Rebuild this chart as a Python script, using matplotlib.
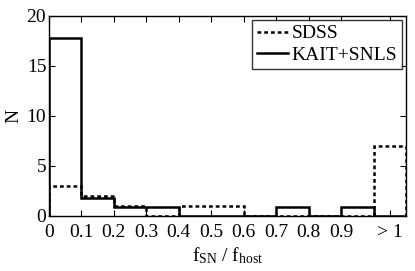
import matplotlib
matplotlib.use("Agg")
import matplotlib.pyplot as plt
import numpy as np

plt.rcParams['font.family'] = ['Liberation Serif', 'DejaVu Serif']
plt.rcParams['mathtext.fontset'] = 'custom'
plt.rcParams['mathtext.rm'] = 'Liberation Serif'
plt.rcParams['mathtext.it'] = 'Liberation Serif'

bin_labels = ['0', '0.1', '0.2', '0.3', '0.4', '0.5', '0.6', '0.7', '0.8', '0.9', '> 1']
sdss = [3, 2, 1, 0, 1, 1, 0, 0, 0, 0, 7]
kait_snls = [17.8, 1.78, 0.89, 0.89, 0, 0, 0, 0.89, 0, 0.89, 0]

edges = np.arange(len(sdss) + 1)

fig = plt.figure(figsize=(4.15, 2.71), dpi=100)
ax = fig.add_axes([49/415, 1 - 216/271, (406 - 49)/415, 200/271])

ax.stairs(sdss, edges, color='black', linestyle=(0, (1.5, 1.2)), linewidth=1.8, label='SDSS')
ax.stairs(kait_snls, edges, color='black', linestyle='-', linewidth=1.8, label='KAIT+SNLS')

ax.set_xlim(0, len(sdss))
ax.set_ylim(0, 20)
ticks = list(range(10)) + [10.5]
ax.set_xticks(ticks)
ax.set_xticklabels(bin_labels)
ax.set_yticks([0, 5, 10, 15, 20])
ax.tick_params(direction='in', top=True, right=True, labelsize=14, length=4, width=0.8)
ax.tick_params(axis='x', pad=6)
ax.tick_params(axis='y', pad=2)
for s in ax.spines.values():
    s.set_linewidth(1.0)

ax.set_xlabel(r'f$_{\mathrm{SN}}$ / f$_{\mathrm{host}}$', fontsize=14, labelpad=3)
ax.set_ylabel('N', fontsize=14, labelpad=3)

leg = ax.legend(loc='upper right', fontsize=14, frameon=True, fancybox=False,
                edgecolor='black', handlelength=1.6, handletextpad=0.2,
                borderpad=0.25, labelspacing=0.2, borderaxespad=0.2)
leg.get_frame().set_linewidth(1.0)

fig.savefig('out.png', dpi=100)
